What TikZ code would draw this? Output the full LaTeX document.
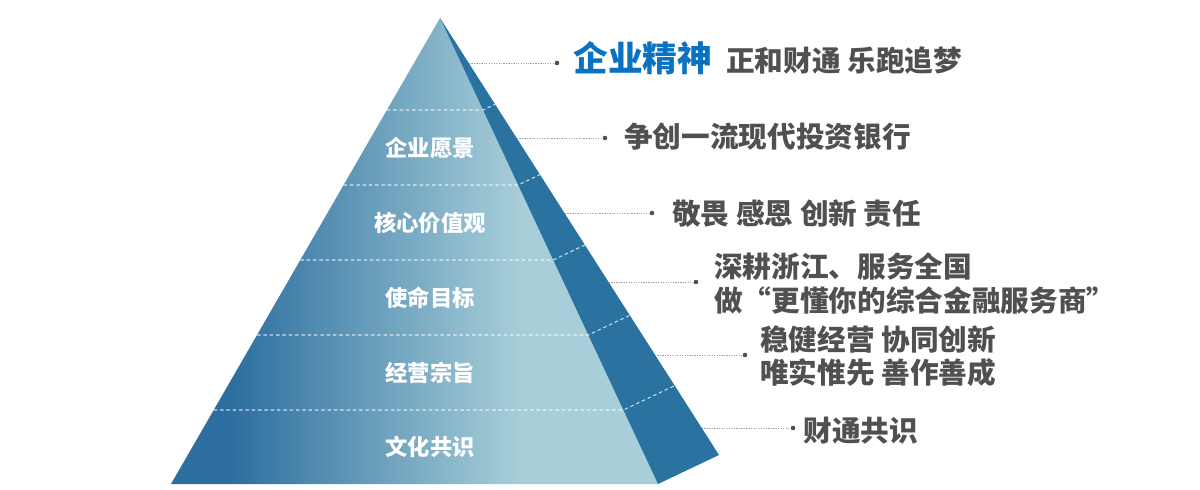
\documentclass[tikz,border=0pt]{standalone}
\usepackage{fontspec}
\setmainfont{Noto Sans CJK SC}
\usetikzlibrary{calc}
\usetikzlibrary{positioning}
\definecolor{pyrdark}{HTML}{2C6E9F}
\definecolor{pyrlight}{HTML}{A8CFD9}
\definecolor{pyrside}{HTML}{2A73A0}
\definecolor{txtgray}{HTML}{505050}
\definecolor{txtblue}{HTML}{0A72C2}
\pgfdeclarehorizontalshading{pyrshade}{100bp}{color(0bp)=(pyrdark); color(31bp)=(pyrdark); color(61bp)=(pyrlight); color(100bp)=(pyrlight)}
\tikzset{leader/.style = {gray!75, line width=0.5pt, dash pattern=on 0.7pt off 0.7pt}}
\tikzset{rowline/.style = {white, opacity=0.75, line width=0.6pt, dash pattern=on 2pt off 1.6pt}}
\tikzset{dot/.style = {circle, fill=txtgray, inner sep=0pt, minimum size=2.6pt}}
\tikzset{layer/.style = {text=white, font=\bfseries\fontsize{12.7}{14}\selectfont}}
\tikzset{note/.style = {text=txtgray, font=\bfseries\fontsize{16.3}{18.8}\selectfont, anchor=west, inner sep=0pt, align=left}}

\begin{document}
\begin{tikzpicture}[x=0.02cm, y=-0.02cm]
		\useasboundingbox (0,0) rectangle (1200,490);
		%pyramid corners
		\coordinate (top) at (440,18);
		\coordinate (bl) at (171,484);
		\coordinate (br) at (658,484);
		\coordinate (sr) at (719,455);

		%draw front face and side face
		\shade[shading=pyrshade] (top) -- (bl) -- (br) -- cycle;
		\fill[pyrside] (top) -- (br) -- (sr) -- cycle;

		%draw dashed lines between the layers
		\foreach \i in {0,...,4}{
			\pgfmathsetmacro{\t}{(92+75*\i)/466}
			\draw[rowline] ($(top)!\t!(bl)$) -- ($(top)!\t!(br)$) -- ($(top)!\t!(sr)$);
		}

		%layer names
		\node[layer] (l1) at (430,148) {企业愿景};
		\node[layer] (l2) at (430,223) {核心价值观};
		\node[layer] (l3) at (430,298) {使命目标};
		\node[layer] (l4) at (430,373) {经营宗旨};
		\node[layer] (l5) at (430,447) {文化共识};

		%draw leader lines
		\coordinate (s1) at (469,63); \node[dot] (d1) at (557,63) {};
		\coordinate (s2) at (517,138); \node[dot] (d2) at (605,138) {};
		\coordinate (s3) at (565,213); \node[dot] (d3) at (652,213) {};
		\coordinate (s4) at (609,282); \node[dot] (d4) at (696,282) {};
		\coordinate (s5) at (655,355); \node[dot] (d5) at (745,355) {};
		\coordinate (s6) at (702,428); \node[dot] (d6) at (793,428) {};
		\foreach \k in {1,...,6}{\draw[leader] (s\k) -- (d\k);}

		%texts on the right
		\node[note, text=txtblue, font=\bfseries\fontsize{19.8}{22}\selectfont] (t1) at (573,58) {企业精神};
		\node[note] (t1b) at (726,61) {正和财通 乐跑追梦};
		\node[note] (t2) at (624,137) {争创一流现代投资银行};
		\node[note] (t3) at (672,214) {敬畏 感恩 创新 责任};
		\node[note] (t4) at (714,283.5) {深耕浙江、服务全国\\做“更懂你的综合金融服务商”};
		\node[note] (t5) at (760,356) {稳健经营 协同创新\\唯实惟先 善作善成};
		\node[note] (t6) at (803,431) {财通共识};
\end{tikzpicture}
\end{document}
